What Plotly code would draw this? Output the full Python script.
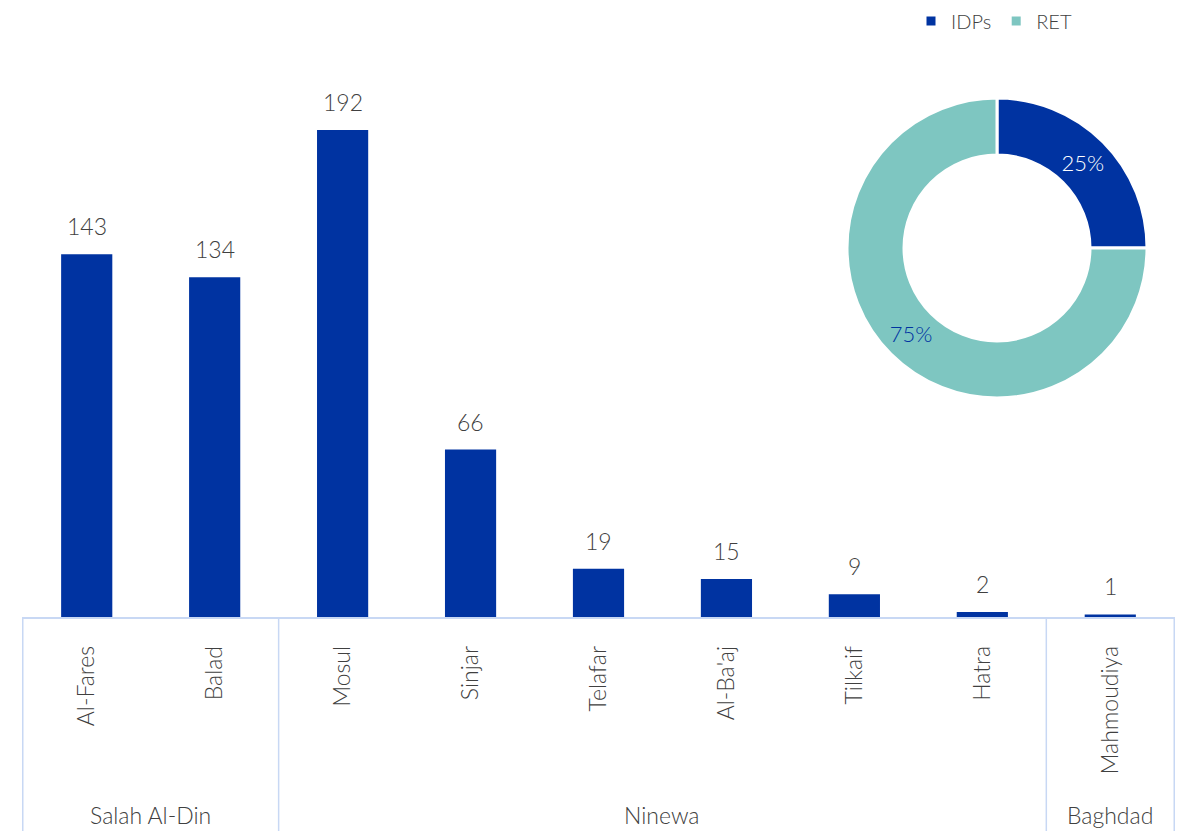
import plotly.graph_objects as go

# ---- data ----
districts = ["Al-Fares", "Balad", "Mosul", "Sinjar", "Telafar", "Al-Ba'aj", "Tilkaif", "Hatra", "Mahmoudiya"]
values = [143, 134, 192, 66, 19, 15, 9, 2, 1]
governorates = ["Salah Al-Din", "Ninewa", "Baghdad"]
gov_counts = [2, 6, 1]
donut_labels = ["IDPs", "RET"]
donut_values = [25, 75]

BLUE = "#0033A1"
TEAL = "#7EC6C1"
TEXT = "#404040"
LINE = "#C8D8F4"
FONT = "Lato"
WEIGHT = 300

# page offset of the figure div (body margin)
OFF = 8
W, H = 1183 - OFF, 831 - OFF
ML, MR, MT, MB = 14, 8, 26, 214
plot_w = W - ML - MR
plot_h = H - MT - MB
base = H - MB  # figure y of baseline


def py(page_y):
    """page pixel y -> paper fraction"""
    return (base - (page_y - OFF)) / plot_h


def px(page_x):
    return (page_x - OFF - ML) / plot_w


fig = go.Figure()

fig.add_trace(go.Bar(
    x=districts, y=values, marker=dict(color=BLUE, line=dict(width=0)),
    width=0.4, showlegend=False, hoverinfo="x+y",
))

fig.add_trace(go.Pie(
    labels=donut_labels, values=donut_values, hole=0.62,
    sort=False, direction="clockwise", rotation=0,
    marker=dict(colors=[BLUE, TEAL], line=dict(color="white", width=3)),
    textinfo="percent", textposition="inside", insidetextorientation="horizontal",
    textfont=dict(family=FONT, size=22, color=["white", BLUE], weight=WEIGHT),
    domain=dict(x=[px(847), px(1147)], y=[py(398), py(98)]),
    showlegend=True,
))

annotations = []
for d, v in zip(districts, values):
    annotations.append(dict(x=d, y=v, xref="x", yref="y", text=str(v), showarrow=False,
                            yanchor="bottom", yshift=12,
                            font=dict(family=FONT, size=23, color=TEXT, weight=WEIGHT)))

# group labels & dividers
shapes = []
start = 0
bounds = [-0.5]
for g, n in zip(governorates, gov_counts):
    center = start + (n - 1) / 2
    annotations.append(dict(x=center, y=py(815), xref="x", yref="paper",
                            text=g, showarrow=False, yanchor="middle",
                            font=dict(family=FONT, size=23, color=TEXT, weight=WEIGHT)))
    start += n
    bounds.append(start - 0.5)
for b in bounds:
    shapes.append(dict(type="line", xref="x", yref="paper", x0=b, x1=b,
                       y0=0, y1=-(MB + 5) / plot_h, line=dict(color=LINE, width=1.5)))

fig.update_layout(
    width=W, height=H,
    margin=dict(l=ML, r=MR, t=MT, b=MB, autoexpand=False),
    paper_bgcolor="white", plot_bgcolor="white",
    font=dict(family=FONT, color=TEXT, weight=WEIGHT),
    xaxis=dict(type="category", tickangle=-90, showline=True, linecolor=LINE, linewidth=1.5,
               showgrid=False, ticks="", ticklabelstandoff=18,
               tickfont=dict(family=FONT, size=23, color=TEXT, weight=WEIGHT), fixedrange=True),
    yaxis=dict(range=[0, plot_h / 2.536], visible=False, showgrid=False, zeroline=False),
    legend=dict(orientation="h", x=px(911), xanchor="left",
                y=py(21), yanchor="middle",
                font=dict(family=FONT, size=20, color=TEXT, weight=WEIGHT), bgcolor="rgba(0,0,0,0)"),
    annotations=annotations, shapes=shapes,
    bargap=0.6,
)

fig.write_html("out.html")
